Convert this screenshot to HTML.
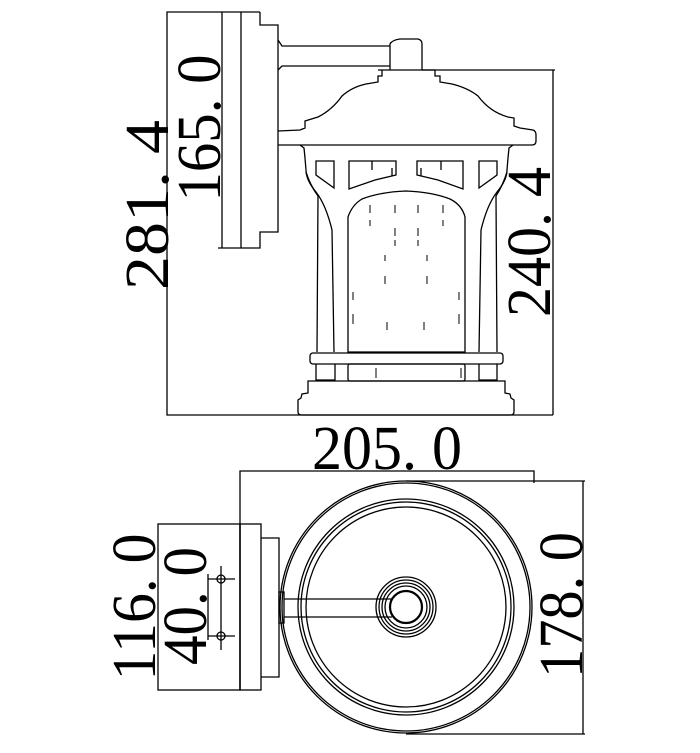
<!DOCTYPE html>
<html><head><meta charset="utf-8"><style>html,body{margin:0;padding:0;background:#fff}svg{display:block}</style></head><body>
<svg width="700" height="753" viewBox="0 0 700 753" xmlns="http://www.w3.org/2000/svg">
<g fill="none" stroke="#000" stroke-width="1.3">
<!-- SIDE VIEW -->
<!-- dimension lines -->
<polyline points="260,12 167,12 167,415 553,415"/>
<polyline points="422,70 555,70"/>
<line x1="553" y1="70" x2="553" y2="415"/>
<!-- backplate -->
<line x1="222" y1="12" x2="222" y2="248"/>
<line x1="241" y1="12" x2="241" y2="248"/>
<polyline points="260,12 260,25 278,25 278,232 260,232 260,248 218,248"/>
<!-- arm -->
<path d="M278,40 L282,46 L390,46 M278,70 L282,66 L390,66"/>
<path d="M390,70 L390,44 Q392,40 400,39 L418,39 Q422,40 422,44 L422,70"/>
<!-- roof -->
<path d="M378,70 L435,70 L435,76 L440,76 L440,82 L452,84 Q468,88 478,96 Q490,112 508,117 L514,118 L514,126 L520,128 L533,130 Q536,131 536,135 L536,141 Q536,145 532,145 L278,145 M278,131 L300,130 L305,128 L305,121 L318,117 Q332,110 342,96 Q352,87 366,84 L378,82 L378,76 L382,76 L382,70"/>
<line x1="278" y1="131" x2="532" y2="131" stroke-width="0"/>
<!-- cage upper band -->
<path d="M300,145 L304,148 L305,158 L306,170 Q306,180 316,192 Q326,205 332,230 L334,352"/>
<path d="M513,145 L509,148 L508,158 L507,170 Q507,180 497,192 Q487,205 481,230 L479,352"/>
<path d="M306,172 Q310,185 318,196 L317,352"/>
<path d="M507,172 Q503,185 496,196 L497,352"/>
<!-- windows -->
<polygon points="316,161 334,161 334,188 316,175"/>
<polygon points="349,161 396,161 396,175 375,180 349,189"/>
<polygon points="417,161 463,161 463,189 438,180 417,175"/>
<polygon points="479,161 497,161 497,175 479,188"/>
<line x1="372" y1="161" x2="372" y2="170"/><line x1="392" y1="168" x2="392" y2="176"/>
<line x1="441" y1="161" x2="441" y2="170"/><line x1="421" y1="168" x2="421" y2="176"/>
<!-- glass arch -->
<path d="M348,352 L348,217 Q352,205 362,199 Q380,192 406,191 Q432,192 450,199 Q462,205 465,217 L465,352 Z"/>
<g stroke-width="1">
<path d="M370,205v8M370,220v6M395,205v8M395,228v8M395,240v6M418,205v8M418,228v8M418,240v6M443,205v8M443,220v6M385,255v6M385,276v8M427,255v6M427,276v8M353,292v8M353,314v10M459,292v8M459,314v10M387,322v8M424,322v8M376,368v10M461,368v10"/>
</g>
<!-- lower band -->
<rect x="310" y="353" width="193" height="11" rx="3"/>
<path d="M316,364 L316,380 L335,380 L335,364 M479,364 L479,380 L497,380 L497,364"/>
<rect x="348" y="364" width="117" height="17" rx="2"/>
<!-- base -->
<path d="M308,381 L505,381 L505,393 L510,394 L511,398 L514,400 L514,412 Q514,415 510,415 L302,415 Q298,415 298,412 L298,400 L301,398 L302,394 L308,393 Z"/>

<!-- TOP VIEW -->
<polyline points="240,690 240,471 534,471 534,483"/>
<polyline points="406,481 585,481"/>
<polyline points="406,734 585,734"/>
<line x1="583" y1="481" x2="583" y2="734"/>
<rect x="158" y="524" width="82" height="166"/>
<rect x="240" y="524" width="21" height="166"/>
<polyline points="261,538 279,538 279,677 261,677"/>
<rect x="279" y="592" width="5" height="31"/>
<circle cx="406" cy="607" r="126"/>
<circle cx="406" cy="607" r="124"/>
<circle cx="406" cy="607" r="108"/>
<circle cx="406" cy="607" r="105"/>
<circle cx="406" cy="607" r="100"/>
<path d="M284,599 L392,599 M284,617 L392,617"/>
<circle cx="406" cy="607" r="30"/>
<circle cx="406" cy="607" r="27"/>
<circle cx="406" cy="607" r="24"/>
<circle cx="406" cy="607" r="21"/>
<circle cx="406" cy="607" r="16" stroke-width="2.2"/>
<!-- 40 marks -->
<line x1="208" y1="574" x2="208" y2="640"/>
<line x1="221" y1="566" x2="221" y2="650"/>
<line x1="208" y1="579" x2="235" y2="579"/>
<line x1="208" y1="636" x2="235" y2="636"/>
<circle cx="221" cy="579" r="4"/>
<circle cx="221" cy="636" r="4"/>
</g>
<g font-family="'Liberation Serif', serif" font-size="62" fill="#000" text-anchor="middle">
<text x="387" y="469" textLength="150" lengthAdjust="spacingAndGlyphs">205. 0</text>
<text transform="translate(168,205) rotate(-90)" textLength="170" lengthAdjust="spacingAndGlyphs">281. 4</text>
<text transform="translate(220,128) rotate(-90)" textLength="147" lengthAdjust="spacingAndGlyphs">165. 0</text>
<text transform="translate(550,242) rotate(-90)" textLength="150" lengthAdjust="spacingAndGlyphs">240. 4</text>
<text transform="translate(155,607) rotate(-90)" textLength="147" lengthAdjust="spacingAndGlyphs">116. 0</text>
<text transform="translate(206,606) rotate(-90)" textLength="118" lengthAdjust="spacingAndGlyphs">40. 0</text>
<text transform="translate(582,605) rotate(-90)" textLength="146" lengthAdjust="spacingAndGlyphs">178. 0</text>
</g>
</svg>
</body></html>
